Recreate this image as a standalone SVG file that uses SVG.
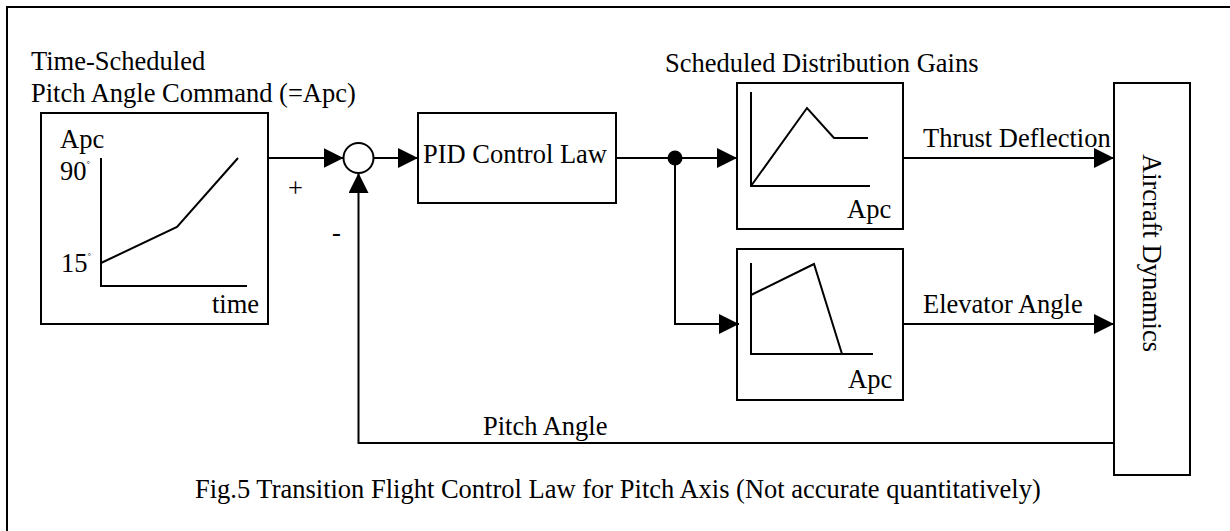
<svg xmlns="http://www.w3.org/2000/svg" width="1230" height="531" viewBox="0 0 1230 531">
  <style>
    .box { fill: #fff; stroke: #000; stroke-width: 2; }
    .plot { fill: none; stroke: #000; stroke-width: 2; stroke-linejoin: miter; }
    .wire { fill: none; stroke: #000; stroke-width: 2; }
    .arrow { marker-end: url(#head); }
    .deg { font-size: 9px; }
  </style>
  <defs>
    <marker id="head" markerUnits="userSpaceOnUse" markerWidth="20" markerHeight="20" viewBox="0 0 20 20" refX="20" refY="10" orient="auto">
      <path d="M0,0 L20,10 L0,20 Z" fill="#000"/>
    </marker>
  </defs>

  <rect width="1230" height="531" fill="#fff"/>
  <!-- figure frame -->
  <path d="M7,540 V7 H1240" fill="none" stroke="#000" stroke-width="2"/>

  <g font-family="Liberation Serif, Times New Roman, Times, DejaVu Serif, serif" font-size="26.5" fill="#000">
    <!-- titles -->
    <text x="31" y="70">Time-Scheduled</text>
    <text x="31" y="102">Pitch Angle Command (=Apc)</text>
    <text x="665" y="72">Scheduled Distribution Gains</text>

    <!-- pitch angle command schedule -->
    <g id="command">
      <rect class="box" x="41" y="113" width="227" height="211"/>
      <path class="plot" d="M101,158 V286 H247"/>
      <path class="plot" d="M101,263 L177,227 L238,158"/>
      <text x="60" y="148">Apc</text>
      <text x="60" y="180">90<tspan class="deg" dy="-13">°</tspan></text>
      <text x="61" y="272">15<tspan class="deg" dy="-13">°</tspan></text>
      <text x="212" y="313">time</text>
    </g>

    <!-- summing junction -->
    <g id="sum">
      <circle class="box" cx="358.5" cy="158" r="15"/>
      <text x="288" y="197">+</text>
      <text x="332" y="241">-</text>
    </g>

    <!-- controller -->
    <g id="pid">
      <rect class="box" x="418" y="113" width="198" height="90"/>
      <text x="423" y="163">PID Control Law</text>
    </g>

    <!-- thrust deflection gain -->
    <g id="gain-thrust">
      <rect class="box" x="737" y="83" width="166" height="146"/>
      <path class="plot" d="M751,92 V186 H870"/>
      <path class="plot" d="M751,186 L807,108 L834,138 H868"/>
      <text x="847" y="218">Apc</text>
    </g>

    <!-- elevator gain -->
    <g id="gain-elevator">
      <rect class="box" x="737" y="249" width="166" height="151"/>
      <path class="plot" d="M751,263 V354 H873"/>
      <path class="plot" d="M751,295 L814,264 L842,354"/>
      <text x="848" y="388">Apc</text>
    </g>

    <!-- plant -->
    <g id="aircraft">
      <rect class="box" x="1114" y="83" width="76" height="392"/>
      <text transform="translate(1143,253) rotate(90)" text-anchor="middle">Aircraft Dynamics</text>
    </g>

    <!-- signal lines -->
    <g id="connectors">
      <path class="wire arrow" d="M268,158 H343.5"/>
      <path class="wire arrow" d="M373.5,158 H418"/>
      <path class="wire arrow" d="M616,158 H737"/>
      <path class="wire arrow" d="M675,158 V324 H739"/>
      <path class="wire arrow" d="M903,158 H1114"/>
      <path class="wire arrow" d="M903,324 H1114"/>
      <path class="wire arrow" d="M1114,443 H358.5 V173"/>
      <circle cx="675" cy="158" r="7.5" fill="#000"/>
    </g>

    <!-- signal labels -->
    <text x="923" y="147">Thrust Deflection</text>
    <text x="923" y="313">Elevator Angle</text>
    <text x="483" y="435">Pitch Angle</text>
    <text x="195" y="498">Fig.5 Transition Flight Control Law for Pitch Axis (Not accurate quantitatively)</text>
  </g>
</svg>
